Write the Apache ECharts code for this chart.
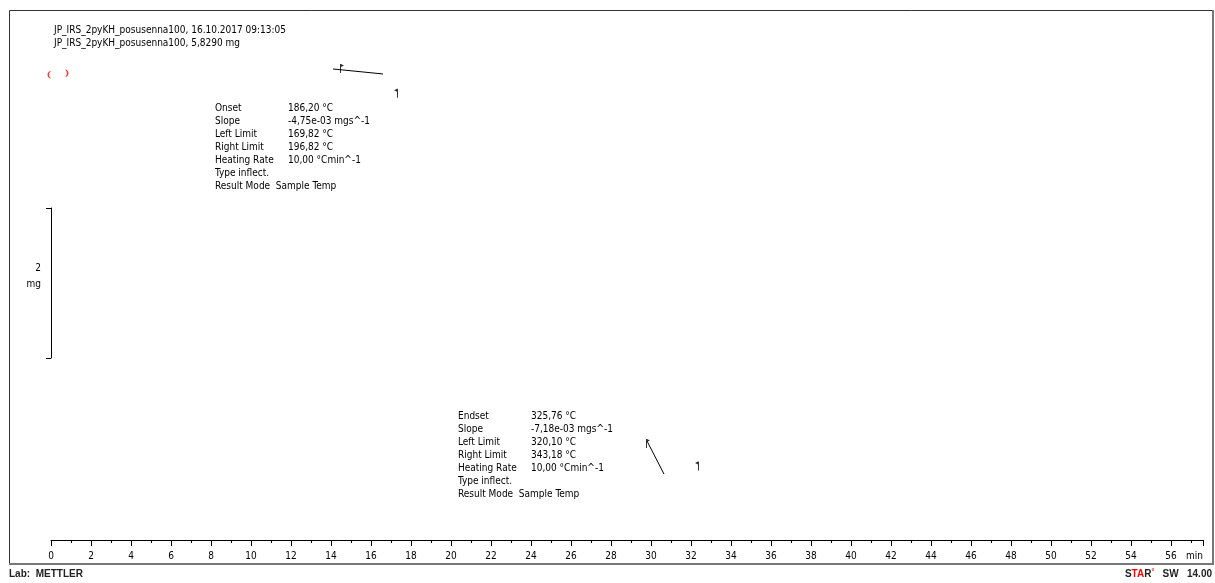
<!DOCTYPE html>
<html>
<head>
<meta charset="utf-8">
<style>html,body{margin:0;padding:0;background:#fff}#c{width:1215px;height:583px}</style>
<script src="https://cdn.jsdelivr.net/npm/echarts@6/dist/echarts.min.js"></script>
</head>
<body>
<div id="c"></div>
<script>
// ---- data (time in min, mass in mg) ----
var xTickInterval = 2;
var xMinorSplit = 2;
var tangent1Time = [14.1, 16.6];
var tangent1Mass = [5.821, 5.755];
var tangent2Time = [29.8, 30.65];
var tangent2Mass = [0.907, 0.471];
var leftLimitTime = [14.55, 29.85];
var leftLimitMass = [5.827, 0.875];
var rightLimitTime = [17.25, 32.3];
var rightLimitMass = [5.500, 0.577];
var bracketOpenTime = [-0.1];
var bracketOpenMass = [5.745];
var bracketCloseTime = [0.8];
var bracketCloseMass = [5.765];
var scaleBarMg = 2;
var scaleBarUnit = 'mg';
var titleLines = ['JP_IRS_2pyKH_posusenna100, 16.10.2017 09:13:05', 'JP_IRS_2pyKH_posusenna100, 5,8290 mg'];
var onsetLabels = ['Onset', 'Slope', 'Left Limit', 'Right Limit', 'Heating Rate', 'Type inflect.', 'Result Mode  Sample Temp'];
var onsetValues = ['186,20 °C', '-4,75e-03 mgs^-1', '169,82 °C', '196,82 °C', '10,00 °Cmin^-1'];
var endsetLabels = ['Endset', 'Slope', 'Left Limit', 'Right Limit', 'Heating Rate', 'Type inflect.', 'Result Mode  Sample Temp'];
var endsetValues = ['325,76 °C', '-7,18e-03 mgs^-1', '320,10 °C', '343,18 °C', '10,00 °Cmin^-1'];

function zip(a, b) { return a.map(function (v, i) { return [v, b[i]]; }); }

var FONT = "'DejaVu Sans Condensed','Liberation Sans',sans-serif";
var flagRight = 'path://M0,0 L1,0 L1,10 L0,10 Z M1,0 L4,1.6 L1,3.2 Z';
var flagLeft = 'path://M3,0 L4,0 L4,10 L3,10 Z M3,0 L0,1.6 L3,3.2 Z';
var brOpen = 'path://M3,0 L3,1.2 C1.6,2.5 1.6,7.5 3,8.8 L3,10 C0,8 0,2 3,0 Z';
var brClose = 'path://M0,0 C3,2 3,8 0,10 L0,8.8 C1.4,7.5 1.4,2.5 0,1.2 Z';

var chart = echarts.init(document.getElementById('c'), null, {renderer: 'canvas'});

function txt(x, y, s, align) {
  return {type: 'text', left: x, top: y, silent: true,
    style: {text: s, fill: '#000', font: '10px ' + FONT, lineHeight: 13, align: align || 'left'}};
}

var option = {
  backgroundColor: '#fff',
  animation: false,
  grid: [
    {left: 51, right: 12, top: 10, bottom: 43, outerBoundsMode: 'none', containLabel: false},
    {left: 51, top: 208, width: 10, height: 150, outerBoundsMode: 'none', containLabel: false}
  ],
  xAxis: [
    {gridIndex: 0, type: 'value', position: 'bottom', min: 0, max: 57.6, interval: xTickInterval,
     axisLine: {show: true, onZero: false, lineStyle: {color: '#000', width: 1}},
     axisTick: {show: true, length: 6, lineStyle: {color: '#000'}},
     minorTick: {show: true, splitNumber: xMinorSplit, length: 3, lineStyle: {color: '#000'}},
     axisLabel: {color: '#000', fontSize: 10, fontFamily: FONT, margin: 11, showMaxLabel: false, showMinLabel: true},
     splitLine: {show: false}, minorSplitLine: {show: false},
     name: 'min', nameLocation: 'end', nameGap: -17,
     nameTextStyle: {color: '#000', fontSize: 10, fontFamily: FONT, align: 'left', verticalAlign: 'top', padding: [11, 0, 0, 0]}},
    {gridIndex: 1, type: 'value', min: 0, max: 1, show: false}
  ],
  yAxis: [
    {gridIndex: 0, type: 'value', min: -0.4, max: 6.6, show: false},
    {gridIndex: 1, type: 'value', min: 0, max: scaleBarMg, interval: scaleBarMg, position: 'left',
     axisLine: {show: true, onZero: false, lineStyle: {color: '#000', width: 1}},
     axisTick: {show: true, length: 5, lineStyle: {color: '#000'}},
     axisLabel: {show: false}, splitLine: {show: false}}
  ],
  series: [
    {type: 'line', xAxisIndex: 0, yAxisIndex: 0, data: zip(tangent1Time, tangent1Mass), symbol: 'none',
     lineStyle: {color: '#000', width: 1}, silent: true},
    {type: 'line', xAxisIndex: 0, yAxisIndex: 0, data: zip(tangent2Time, tangent2Mass), symbol: 'none',
     lineStyle: {color: '#000', width: 1}, silent: true},
    {type: 'scatter', xAxisIndex: 0, yAxisIndex: 0, data: zip(leftLimitTime, leftLimitMass), symbol: flagRight,
     symbolSize: [4, 9], symbolKeepAspect: false, itemStyle: {color: '#000'}, silent: true},
    {type: 'scatter', xAxisIndex: 0, yAxisIndex: 0, data: zip(rightLimitTime, rightLimitMass), symbol: flagLeft,
     symbolSize: [4, 9], symbolKeepAspect: false, itemStyle: {color: '#000'}, silent: true},
    {type: 'scatter', xAxisIndex: 0, yAxisIndex: 0, data: zip(bracketOpenTime, bracketOpenMass), symbol: brOpen,
     symbolSize: [3, 8], clip: false, itemStyle: {color: '#ff0000'}, silent: true},
    {type: 'scatter', xAxisIndex: 0, yAxisIndex: 0, data: zip(bracketCloseTime, bracketCloseMass), symbol: brClose,
     symbolSize: [3, 8], clip: false, itemStyle: {color: '#ff0000'}, silent: true}
  ],
  graphic: [
    {type: 'rect', shape: {x: 9.5, y: 10.5, width: 1203, height: 553}, style: {fill: 'none', stroke: '#333', lineWidth: 1}, silent: true},
    {type: 'line', shape: {x1: 1213, y1: 10, x2: 1213, y2: 565}, style: {stroke: '#777', lineWidth: 2}, silent: true},
    {type: 'line', shape: {x1: 9, y1: 564, x2: 1214, y2: 564}, style: {stroke: '#777', lineWidth: 2}, silent: true},
    txt(54, 24, titleLines.join('\n')),
    txt(215, 102, onsetLabels.join('\n')),
    txt(288, 102, onsetValues.join('\n')),
    txt(458, 410, endsetLabels.join('\n')),
    txt(531, 410, endsetValues.join('\n')),
    {type: 'text', x: 41, y: 260, silent: true,
     style: {text: String(scaleBarMg) + '\n' + scaleBarUnit, fill: '#000', font: '10px ' + FONT, lineHeight: 16, align: 'right'}},
    {type: 'text', left: 9, top: 569, silent: true,
     style: {text: 'Lab:  METTLER', fill: '#222', font: 'bold 10px Arial, "Liberation Sans", sans-serif'}},
    {type: 'text', right: 3, top: 569, silent: true,
     style: {text: '{b|S}{r|TA}{b|R}{rs|°}{b|   SW   14.00}', rich: {
       b: {fill: '#222', font: 'bold 10px Arial, "Liberation Sans", sans-serif'},
       r: {fill: '#ff0000', font: 'bold 10px Arial, "Liberation Sans", sans-serif'},
       rs: {fill: '#ff0000', font: 'bold 7px Arial, "Liberation Sans", sans-serif', verticalAlign: 'top'}
     }}}
  ]
};
chart.setOption(option);
</script>
</body>
</html>
